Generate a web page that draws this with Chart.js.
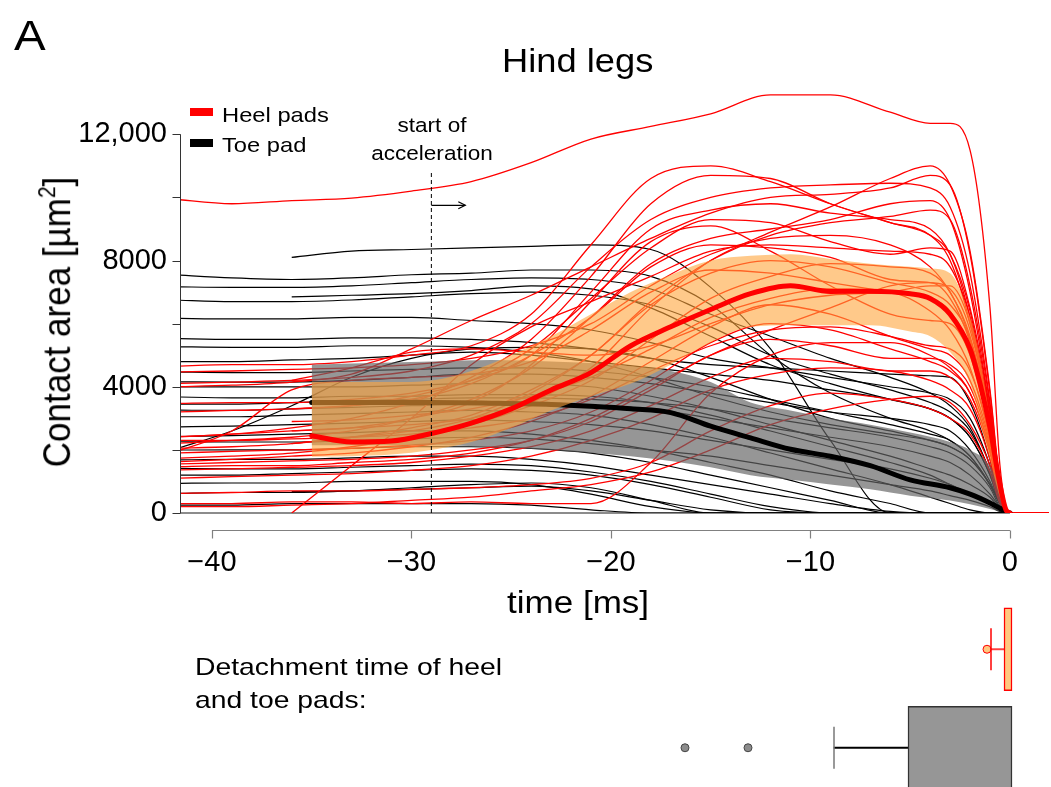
<!DOCTYPE html>
<html lang="en">
<head>
<meta charset="utf-8"/>
<title>Hind legs - contact area</title>
<script src="https://cdn.jsdelivr.net/npm/chart.js"></script>
<style>
  body { margin: 0; background: #fff; overflow: hidden; font-family: 'Liberation Sans', Arial, sans-serif; color: #000; }
  #wrap { position: relative; width: 1051px; height: 787px; overflow: hidden; }
  canvas { position: absolute; left: 0; }
  .txt { position: absolute; white-space: nowrap; transform-origin: 0 0; }
  .bar { position: absolute; left: 190px; width: 23px; height: 8px; }
</style>
</head>
<body>
<div id="wrap">
  <canvas id="areaChart" width="1051" height="787" style="top:0"></canvas>
  <canvas id="boxChart" width="1051" height="197" style="top:600px"></canvas>

  <div class="txt" style="left:14px;top:14.5px;font-size:42px;line-height:42px;transform:scaleX(1.13)">A</div>
  <div class="txt" style="left:502px;top:43.7px;font-size:33px;line-height:33px;transform:scaleX(1.1)">Hind legs</div>

  <!-- legend -->
  <div class="bar" style="top:108px;background:#ff0000"></div>
  <div class="bar" style="top:139px;background:#000"></div>
  <div class="txt" style="left:222px;top:104.3px;font-size:21px;line-height:21px;transform:scaleX(1.13)">Heel pads</div>
  <div class="txt" style="left:222px;top:134.3px;font-size:21px;line-height:21px;transform:scaleX(1.13)">Toe pad</div>

  <div class="txt" style="left:332px;width:200px;top:110.9px;font-size:20.5px;line-height:28px;text-align:center;transform-origin:50% 0;transform:scaleX(1.1)">start of<br>acceleration</div>

  <!-- axis titles -->
  <div class="txt" style="left:58.5px;top:321.5px;font-size:35px;line-height:35px;transform-origin:50% 50%;transform:translate(-50%,-50%) rotate(-90deg) scaleY(1.13)">Contact area [µm<span style="font-size:0.6em;position:relative;top:-0.6em">2</span>]</div>
  <div class="txt" style="left:507px;top:586.8px;font-size:31px;line-height:31px;transform:scaleX(1.13)">time [ms]</div>

  <div class="txt" style="left:195px;top:650px;font-size:24px;line-height:33px;transform:scaleX(1.18)">Detachment time of heel<br>and toe pads:</div>
</div>

<script>
    // x range of the plot [ms]
    const xMin = -41.6;
    const xMax = 1.95;
    const xTickValues = [-40, -30, -20, -10, 0];
    const yTickValues = [0, 2000, 4000, 6000, 8000, 10000, 12000];

    // time grid of the single traces [ms]
    const traceTime = [-42, -39, -36, -33, -30, -27, -24, -21, -18, -15, -12, -9, -6, -4, -3, -2, -1, -0.5, 0, 1.95];

    // heel pad traces (contact area, µm²)
    const heelTraces = [
        [9950, 9800, 9900, 9980, 10200, 10500, 11100, 11850, 12250, 12650, 13250, 13250, 12700, 12350, 12350, 11500, 6500, 1500, 0, 0],
        [4650, 4700, 4700, 4800, 5000, 5300, 6300, 8500, 10600, 11000, 10500, 9800, 9200, 8800, 8200, 6400, 3000, 800, 0, 0],
        [2400, 2500, 2600, 2700, 2800, 3000, 3500, 4600, 6500, 8000, 8900, 9700, 10600, 11000, 10400, 8300, 3900, 1000, 0, 0],
        [4100, 4150, 4200, 4300, 4500, 5000, 6000, 7800, 9300, 10000, 10300, 10400, 10450, 10300, 9700, 7600, 3500, 800, 0, 0],
        [3470, 3500, 3500, 3600, 3800, 4200, 5000, 7000, 9000, 9600, 9800, 9500, 9300, 9000, 8200, 6200, 3000, 700, 0, 0],
        [3200, 3250, 3300, 3400, 3700, 4200, 5200, 6800, 8400, 9300, 9200, 8600, 8200, 8400, 8300, 6500, 3200, 800, 0, 0],
        [2415, 2500, 2700, 3000, 3500, 4300, 5500, 7500, 9800, 10700, 10600, 9800, 9200, 8800, 8000, 6000, 2800, 700, 0, 0],
        [2200, 2300, 2400, 2600, 3000, 3600, 4600, 6200, 7900, 8700, 9000, 9300, 9800, 9900, 9300, 7000, 3200, 800, 0, 0],
        [2050, 2100, 2200, 2400, 2600, 3000, 3800, 5000, 6600, 7600, 8000, 7800, 7300, 7000, 6600, 5500, 2800, 700, 0, 0],
        [1730, 1800, 1900, 2100, 2400, 2800, 3400, 4200, 5500, 6800, 7500, 7900, 7800, 7600, 7000, 5500, 2600, 600, 0, 0],
        [1620, 1700, 1800, 1900, 2100, 2400, 2900, 3700, 4800, 5900, 6600, 6300, 5600, 5200, 5000, 4200, 2200, 500, 0, 0],
        [1465, 1500, 1500, 1600, 1700, 1900, 2300, 3000, 4000, 5000, 5800, 6500, 7200, 7300, 6800, 5400, 2600, 600, 0, 0],
        [1360, 1400, 1450, 1500, 1600, 1800, 2100, 2600, 3400, 4300, 4900, 4800, 4500, 4500, 4300, 3600, 1900, 500, 0, 0],
        [620, 650, 700, 700, 750, 800, 900, 1100, 1600, 2600, 3400, 3800, 3600, 3300, 3000, 2500, 1300, 300, 0, 0],
        [300, 300, 350, 350, 300, 350, 300, 300, 1600, 3800, 5000, 5400, 5400, 5000, 4600, 3800, 2000, 500, 0, 0],
        [200, 200, 250, 300, 400, 500, 700, 900, 1300, 2000, 2800, 3300, 3600, 3700, 3500, 2800, 1500, 400, 0, 0],
        [null, null, 0, 1500, 3000, 4700, 5900, 6700, 7500, 8300, 8500, 8400, 8300, 8200, 7800, 6200, 3000, 700, 0, 0],
        [4000, 4050, 4150, 4400, 5200, 6100, 6900, 7800, 8700, 9500, 10000, 10100, 10300, 10700, 10400, 8200, 3800, 900, 0, 0],
        [4470, 4500, 4550, 4600, 4700, 4900, 5300, 6000, 7200, 8200, 8700, 8800, 8500, 7800, 7000, 5600, 2800, 700, 0, 0],
        [null, null, 4200, 4600, 5100, 5200, 5100, 5000, 5300, 6000, 6600, 6900, 7000, 7200, 7200, 6000, 3000, 700, 0, 0],
        [null, null, 2900, 2950, 3100, 3300, 3700, 4300, 5200, 6200, 6800, 7100, 7000, 6400, 5800, 4600, 2300, 600, 0, 0],
        [2300, 2300, 2350, 2400, 2500, 2700, 3000, 3600, 4500, 5300, 5800, 5900, 5600, 5300, 5200, 4500, 2400, 600, 0, 0],
        [1900, 1950, 2000, 2050, 2150, 2300, 2600, 3200, 4200, 5400, 6000, 5800, 5200, 4800, 4500, 3800, 2000, 500, 0, 0],
        [1550, 1600, 1650, 1700, 1800, 2000, 2300, 2900, 3900, 5000, 5500, 5300, 4900, 4900, 4700, 4000, 2100, 500, 0, 0],
        [null, null, 2600, 2700, 3000, 3500, 4700, 6700, 8600, 9100, 8300, 7200, 6300, 6100, 6000, 5000, 2500, 600, 0, 0],
        [null, null, 3300, 3400, 3600, 4100, 5000, 6200, 7800, 8500, 8400, 8100, 7400, 7300, 7100, 5800, 2900, 700, 0, 0],
        [1100, 1150, 1200, 1250, 1350, 1500, 1800, 2300, 3000, 3900, 4400, 4600, 4500, 4200, 3900, 3300, 1700, 400, 0, 0],
        [null, null, 2200, 2400, 2700, 3100, 3900, 5000, 6700, 8000, 8800, 9200, 9400, 9600, 9300, 7200, 3400, 800, 0, 0],
        [1900, 2600, 3900, 4200, 4300, 4400, 4800, 5800, 7000, 7700, 7600, 7300, 7000, 6800, 6400, 5200, 2600, 600, 0, 0]
    ];

    // toe pad traces (contact area, µm²)
    const toeTraces = [
        [null, null, 8100, 8300, 8350, 8400, 8450, 8500, 8350, 7150, 5200, 2300, 0, 0, 0, 0, 0, 0, 0, 0],
        [7550, 7450, 7400, 7450, 7550, 7600, 7700, 7700, 7500, 6600, 5000, 3800, 3000, 2600, 2300, 1800, 900, 300, 0, 0],
        [7170, 7150, 7150, 7200, 7300, 7400, 7450, 7400, 7100, 6300, 5600, 4900, 4300, 3800, 3400, 2700, 1300, 400, 0, 0],
        [6750, 6700, 6700, 6750, 6850, 6950, 7000, 6900, 6600, 5900, 5000, 4400, 3900, 3500, 3200, 2600, 1300, 400, 0, 0],
        [null, null, 6850, 6900, 6950, 7050, 7200, 7100, 6500, 5600, 4700, 4100, 3600, 3300, 3000, 2400, 1200, 300, 0, 0],
        [6170, 6150, 6150, 6200, 6200, 6100, 6000, 5800, 5400, 4900, 4600, 4300, 4000, 3800, 3600, 3000, 1500, 400, 0, 0],
        [5530, 5500, 5500, 5550, 5550, 5500, 5400, 5200, 4900, 4700, 4600, 4500, 4400, 4350, 4300, 3500, 1700, 400, 0, 0],
        [5270, 5250, 5250, 5300, 5300, 5250, 5100, 4800, 4300, 3700, 3200, 2800, 2500, 2300, 2100, 1700, 900, 300, 0, 0],
        [1995, 2600, 3400, 4300, 4900, 5200, 5250, 5200, 4900, 4300, 3600, 3000, 2600, 2300, 2100, 1700, 900, 300, 0, 0],
        [4470, 4450, 4450, 4500, 4550, 4600, 4600, 4500, 4300, 4000, 3600, 3200, 2800, 2500, 2300, 1800, 900, 300, 0, 0],
        [4160, 4150, 4150, 4200, 4300, 4400, 4400, 4300, 4100, 3800, 3500, 3200, 3000, 2800, 2600, 2000, 1000, 300, 0, 0],
        [4000, 4000, 4000, 4000, 4050, 4100, 4100, 4000, 3700, 3300, 2800, 2300, 1800, 1400, 1200, 900, 500, 150, 0, 0],
        [3680, 3650, 3650, 3700, 3700, 3750, 3750, 3700, 3500, 3100, 2600, 2100, 1600, 1200, 900, 600, 300, 100, 0, 0],
        [3260, 3250, 3300, 3350, 3400, 3450, 3450, 3400, 3300, 3000, 2700, 2400, 2100, 1800, 1600, 1200, 600, 200, 0, 0],
        [3050, 3050, 3100, 3150, 3200, 3250, 3200, 3100, 2800, 2400, 1900, 1400, 900, 500, 300, 100, 0, 0, 0, 0],
        [2730, 2750, 2800, 2850, 2900, 2950, 2900, 2800, 2600, 2300, 2000, 1700, 1400, 1100, 900, 600, 300, 100, 0, 0],
        [2420, 2450, 2500, 2550, 2600, 2600, 2500, 2300, 2000, 1600, 1200, 700, 300, 0, 0, 0, 0, 0, 0, 0],
        [2260, 2250, 2250, 2300, 2350, 2400, 2350, 2200, 2000, 1800, 1500, 1200, 900, 700, 550, 400, 200, 50, 0, 0],
        [1995, 2000, 2000, 2050, 2100, 2100, 2050, 1900, 1600, 1200, 800, 400, 0, 0, 0, 0, 0, 0, 0, 0],
        [1680, 1700, 1700, 1750, 1800, 1800, 1700, 1500, 1200, 900, 600, 300, 50, 0, 0, 0, 0, 0, 0, 0],
        [1415, 1400, 1400, 1450, 1500, 1550, 1500, 1300, 1000, 600, 200, 0, 0, 0, 0, 0, 0, 0, 0, 0],
        [1200, 1200, 1250, 1300, 1350, 1400, 1350, 1200, 900, 500, 100, 0, 0, 0, 0, 0, 0, 0, 0, 0],
        [940, 950, 950, 1000, 1000, 1000, 900, 600, 200, 0, 0, 0, 0, 0, 0, 0, 0, 0, 0, 0],
        [620, 650, 650, 700, 800, 900, 950, 800, 400, 0, 0, 0, 0, 0, 0, 0, 0, 0, 0, 0],
        [250, 250, 300, 300, 300, 300, 250, 100, 0, 0, 0, 0, 0, 0, 0, 0, 0, 0, 0, 0],
        [null, null, 680, 700, 750, 800, 850, 700, 400, 100, 0, 0, 0, 0, 0, 0, 0, 0, 0, 0],
        [4800, 4800, 4850, 4900, 5000, 5100, 5000, 4800, 4600, 4400, 4200, 3900, 3600, 3300, 3000, 2400, 1200, 300, 0, 0],
        [3450, 3450, 3500, 3550, 3600, 3650, 3650, 3600, 3500, 3300, 3000, 2700, 2400, 2100, 1900, 1500, 800, 200, 0, 0]
    ];

    // heel pads: mean and spread band
    const heelTime  = [-35, -33, -31, -29, -27, -25, -23, -21, -19, -17, -15, -13, -11, -9, -7, -5, -4, -3, -2, -1.5, -1, -0.5, -0.2, 0];
    const heelMean  = [2450, 2250, 2280, 2520, 2850, 3300, 3900, 4450, 5300, 5900, 6450, 6950, 7200, 7020, 7030, 6950, 6800, 6300, 5200, 4100, 2700, 900, 100, 0];
    const heelUpper = [4150, 4150, 4150, 4200, 4500, 5000, 5600, 6300, 7000, 7550, 8000, 8150, 8200, 8050, 7900, 7800, 7750, 7600, 6200, 4900, 3000, 1200, 200, 0];
    const heelLower = [1780, 1800, 1850, 2000, 2250, 2700, 3250, 3700, 4100, 4700, 5400, 5900, 5950, 5950, 5950, 5750, 5600, 5100, 4100, 2900, 1700, 500, 80, 0];

    // toe pad: mean and spread band
    const toeTime  = [-35, -32, -29, -26, -23, -21, -19, -17, -15, -13, -11, -9, -7, -5, -3, -2, -1, -0.5, -0.2, 0];
    const toeMean  = [3500, 3500, 3500, 3480, 3440, 3380, 3300, 3180, 2750, 2380, 2020, 1800, 1500, 1050, 800, 600, 320, 150, 40, 0];
    const toeUpper = [4700, 4750, 4800, 4850, 4800, 4750, 4650, 4500, 4150, 3500, 3250, 3000, 2800, 2550, 2250, 2000, 1500, 800, 200, 0];
    const toeLower = [2150, 2150, 2150, 2100, 2000, 1900, 1800, 1650, 1450, 1200, 1050, 900, 750, 550, 400, 280, 130, 50, 10, 0];

    // start of acceleration marker
    const accelStart = -29;
    const accelLineTop = 10850;
    const arrowLevel = 9750;
    const arrowEnd = -27.3;

    // detachment times [ms]
    const boxLabels = ['Heel pads', 'Toe pad'];
    const boxQ1 = [-0.4, -5.2];
    const boxQ3 = [0, 0];
    const whiskerLow = [-1.05, -8.9];
    const heelOutliers = [-1.25];
    const toeOutliers = [-16.35, -13.2];

    const font = 'Liberation Sans, Arial, sans-serif';

    function pts(times, vals) {
        return times.map((t, i) => ({x: t, y: vals[i]})).filter(p => p.y !== null);
    }

    function lineSet(data, color, width, order, extra) {
        return Object.assign({data: data, borderColor: color, borderWidth: width, pointRadius: 0, fill: false, order: order}, extra || {});
    }

    const straight = {tension: 0, cubicInterpolationMode: 'default'};

    const datasets = [
        lineSet(pts(heelTime, heelMean), '#ff0000', 5, 0, {borderCapStyle: 'round'}),
        lineSet(pts(heelTime, heelUpper), 'transparent', 0, 1, {fill: '+1', backgroundColor: 'rgba(255,165,60,0.6)'}),
        lineSet(pts(heelTime, heelLower), 'transparent', 0, 1),
        lineSet(pts(toeTime, toeMean), '#000000', 5, 2, {borderCapStyle: 'round'}),
        lineSet(pts(toeTime, toeUpper), 'transparent', 0, 3, {fill: '+1', backgroundColor: 'rgba(100,100,100,0.68)'}),
        lineSet(pts(toeTime, toeLower), 'transparent', 0, 3),
        lineSet([{x: accelStart, y: 0}, {x: accelStart, y: accelLineTop}], '#000000', 1, -1, Object.assign({borderDash: [4, 3]}, straight)),
        lineSet([{x: accelStart, y: arrowLevel}, {x: arrowEnd, y: arrowLevel}], '#000000', 1.2, -1, straight)
    ];
    heelTraces.forEach(v => datasets.push(lineSet(pts(traceTime, v), '#ff0000', 1.3, 4)));
    toeTraces.forEach(v => datasets.push(lineSet(pts(traceTime, v), '#000000', 1.2, 5)));

    // axis lines drawn apart from the plot, like the original figure
    const axisLines = {
        id: 'axisLines',
        beforeDatasetsDraw(chart) {
            const {ctx, chartArea, scales: {x, y}} = chart;
            const y0 = y.getPixelForValue(0);
            ctx.save();
            ctx.strokeStyle = '#8c8c8c';
            ctx.lineWidth = 2;
            ctx.beginPath();
            ctx.moveTo(chartArea.left, y0);
            ctx.lineTo(x.getPixelForValue(0), y0);
            ctx.stroke();
            ctx.restore();
        },
        afterDraw(chart) {
            const {ctx, chartArea, scales: {x, y}} = chart;
            ctx.save();
            // y axis
            const ax = chartArea.left + 0.5;
            const yTop = y.ticks[y.ticks.length - 1].value;
            ctx.strokeStyle = '#333';
            ctx.lineWidth = 1;
            ctx.beginPath();
            ctx.moveTo(ax, y.getPixelForValue(0));
            ctx.lineTo(ax, y.getPixelForValue(yTop));
            y.ticks.forEach(t => {
                const py = Math.round(y.getPixelForValue(t.value)) + 0.5;
                ctx.moveTo(ax - 8, py);
                ctx.lineTo(ax, py);
            });
            ctx.stroke();
            // x axis, offset below the zero line
            const ay = Math.round(y.getPixelForValue(0) + 17) + 0.5;
            const first = x.ticks[0].value, last = x.ticks[x.ticks.length - 1].value;
            ctx.strokeStyle = '#808080';
            ctx.lineWidth = 1.2;
            ctx.beginPath();
            ctx.moveTo(x.getPixelForValue(first), ay);
            ctx.lineTo(x.getPixelForValue(last), ay);
            x.ticks.forEach(t => {
                const px = Math.round(x.getPixelForValue(t.value)) + 0.5;
                ctx.moveTo(px, ay);
                ctx.lineTo(px, ay + 8);
            });
            ctx.stroke();
            // arrow head of the acceleration arrow
            const tip = chart.getDatasetMeta(7).data[1];
            ctx.strokeStyle = '#000';
            ctx.lineWidth = 1.2;
            ctx.beginPath();
            ctx.moveTo(tip.x - 7, tip.y - 3.5);
            ctx.lineTo(tip.x, tip.y);
            ctx.lineTo(tip.x - 7, tip.y + 3.5);
            ctx.stroke();
            ctx.restore();
        }
    };

    new Chart(document.getElementById('areaChart'), {
        type: 'line',
        data: {datasets: datasets},
        options: {
            responsive: false,
            animation: false,
            devicePixelRatio: 1,
            layout: {autoPadding: false, padding: {top: 87, left: 0, right: 0, bottom: 0}},
            elements: {line: {cubicInterpolationMode: 'monotone'}, point: {radius: 0}},
            plugins: {legend: {display: false}, tooltip: {enabled: false}, title: {display: false}},
            scales: {
                x: {
                    type: 'linear', min: xMin, max: xMax,
                    grid: {display: false, drawTicks: false}, border: {display: false},
                    afterFit(s) { s.height = 274; },
                    afterBuildTicks(s) { s.ticks = xTickValues.map(v => ({value: v})); },
                    ticks: {
                        autoSkip: false, maxRotation: 0, padding: 33,
                        color: '#000', font: {family: font, size: 29},
                        callback: v => v < 0 ? '\u2212' + Math.abs(v) : String(v)
                    }
                },
                y: {
                    type: 'linear', min: 0, max: 13500,
                    grid: {display: false, drawTicks: false}, border: {display: false},
                    afterFit(s) { s.width = 180; },
                    afterBuildTicks(s) { s.ticks = yTickValues.map(v => ({value: v})); },
                    ticks: {
                        autoSkip: false, padding: 13,
                        color: '#000', font: {family: font, size: 29},
                        callback: v => v === 12000 ? '12,000' : (v % 4000 === 0 ? String(v) : '')
                    }
                }
            }
        },
        plugins: [axisLines]
    });

    // box plots of the detachment times
    new Chart(document.getElementById('boxChart'), {
        type: 'bar',
        data: {
            labels: boxLabels,
            datasets: [
                {
                    data: boxLabels.map((l, i) => [boxQ1[i], boxQ3[i]]),
                    backgroundColor: ['#ffc880', '#969696'],
                    borderColor: ['#ff0000', '#333333'],
                    borderWidth: 1.5, borderSkipped: false, barThickness: 83, grouped: false, order: 1
                },
                {
                    data: boxLabels.map((l, i) => [whiskerLow[i], boxQ1[i]]),
                    backgroundColor: ['#ff4040', '#000000'],
                    borderWidth: 0, barThickness: 1.3, grouped: false, order: 2
                },
                {
                    type: 'scatter',
                    data: boxLabels.map((l, i) => ({x: whiskerLow[i], y: l})),
                    pointStyle: 'line', pointRadius: 21, pointRotation: 90,
                    pointBorderColor: ['#ff0000', '#777777'], pointBorderWidth: 1.5, order: 0
                },
                {
                    type: 'scatter',
                    data: heelOutliers.map(v => ({x: v, y: boxLabels[0]})),
                    pointRadius: 4, pointBackgroundColor: '#ffc880', pointBorderColor: '#ff0000', pointBorderWidth: 1, order: 0
                },
                {
                    type: 'scatter',
                    data: toeOutliers.map(v => ({x: v, y: boxLabels[1]})),
                    pointRadius: 4, pointBackgroundColor: '#8c8c8c', pointBorderColor: '#444444', pointBorderWidth: 1, order: 0
                }
            ]
        },
        options: {
            indexAxis: 'y',
            responsive: false,
            animation: false,
            devicePixelRatio: 1,
            layout: {autoPadding: false, padding: {left: 180, right: 0, top: 0, bottom: 0}},
            plugins: {legend: {display: false}, tooltip: {enabled: false}},
            scales: {
                x: {type: 'linear', min: xMin, max: xMax, offset: false, display: false},
                y: {type: 'category', labels: boxLabels, offset: true, display: false}
            }
        }
    });
</script>
</body>
</html>
